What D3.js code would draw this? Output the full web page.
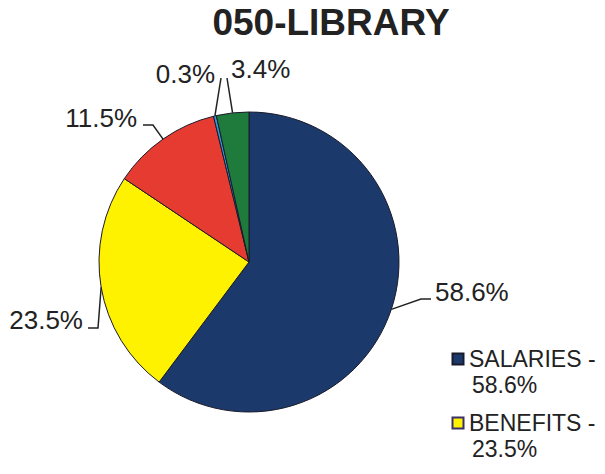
<!DOCTYPE html>
<html>
<head>
<meta charset="utf-8">
<script src="https://cdn.jsdelivr.net/npm/d3@7"></script>
<style>
  html, body { margin: 0; padding: 0; background: #fff; }
  svg { display: block; font-family: "Liberation Sans", Arial, sans-serif; }
</style>
</head>
<body>
<svg id="chart" width="605" height="474"></svg>
<script>
// Budget shares for 050-LIBRARY, clockwise from 12 o'clock
const categories = ["SALARIES", "BENEFITS", "SUPPLIES", "CAPITAL", "SERVICES"];
const shares = [58.6, 23.5, 11.5, 0.3, 3.4];
const sliceColors = ["#1b3a6b", "#fff200", "#e53b30", "#2b9be0", "#1e7b3b"];
const legendItems = [0, 1]; // entries that fit in the legend box

// Leader line and label placement for each slice (elbow, end, text anchor)
const labelLayout = [
  { elbow: [421, 299], end: [431, 299], tx: 435, ty: 301, anchor: "start" },
  { elbow: [98, 328],  end: [88, 328],  tx: 83,  ty: 329, anchor: "end" },
  { elbow: [153, 125], end: [143, 125], tx: 137, ty: 127, anchor: "end" },
  { elbow: null,       end: [221, 78],  tx: 215, ty: 83,  anchor: "end" },
  { elbow: null,       end: [227, 78],  tx: 231, ty: 78,  anchor: "start" }
];

const svg = d3.select("#chart");
const cx = 249, cy = 262, r = 150;

svg.append("text")
  .attr("x", 331).attr("y", 35)
  .attr("text-anchor", "middle")
  .attr("font-size", 37).attr("font-weight", "bold")
  .attr("fill", "#222")
  .text("050-LIBRARY");

const data = categories.map((c, i) => ({ name: c, value: shares[i], i }));
const pie = d3.pie().sort(null).value(d => d.value);
const arcs = pie(data);
const arc = d3.arc().innerRadius(0).outerRadius(r);

const g = svg.append("g").attr("transform", `translate(${cx},${cy})`);
g.selectAll("path.slice")
  .data(arcs)
  .join("path")
  .attr("class", "slice")
  .attr("d", arc)
  .attr("fill", d => sliceColors[d.data.i])
  .attr("stroke", "#1a1a2a")
  .attr("stroke-width", 1)
  .attr("stroke-linejoin", "round");

// Leader lines start on the rim at each slice's mid angle
const fmt = v => v.toFixed(1) + "%";
arcs.forEach(a => {
  const L = labelLayout[a.data.i];
  const mid = (a.startAngle + a.endAngle) / 2;
  const sx = cx + r * Math.sin(mid), sy = cy - r * Math.cos(mid);
  const pts = [[sx, sy]];
  if (L.elbow) pts.push(L.elbow);
  pts.push(L.end);
  svg.append("path")
    .attr("d", d3.line()(pts))
    .attr("fill", "none")
    .attr("stroke", "#222")
    .attr("stroke-width", 1.5);
  svg.append("text")
    .attr("x", L.tx).attr("y", L.ty)
    .attr("text-anchor", L.anchor)
    .attr("font-size", 26)
    .attr("fill", "#222")
    .text(fmt(a.data.value));
});

// Legend
const legend = svg.append("g");
legendItems.forEach((idx, k) => {
  const y0 = 353 + k * 64;
  legend.append("rect")
    .attr("x", 452.5).attr("y", y0 + 0.5)
    .attr("width", 11).attr("height", 11)
    .attr("fill", sliceColors[idx])
    .attr("stroke", idx === 1 ? "#3a2f66" : "#1a1a2a")
    .attr("stroke-width", 2);
  legend.append("text")
    .attr("x", 469).attr("y", y0 + 14)
    .attr("font-size", 23).attr("fill", "#222")
    .text(categories[idx] + " -");
  legend.append("text")
    .attr("x", 472).attr("y", y0 + 40)
    .attr("font-size", 23).attr("fill", "#222")
    .text(fmt(shares[idx]));
});
</script>
</body>
</html>
